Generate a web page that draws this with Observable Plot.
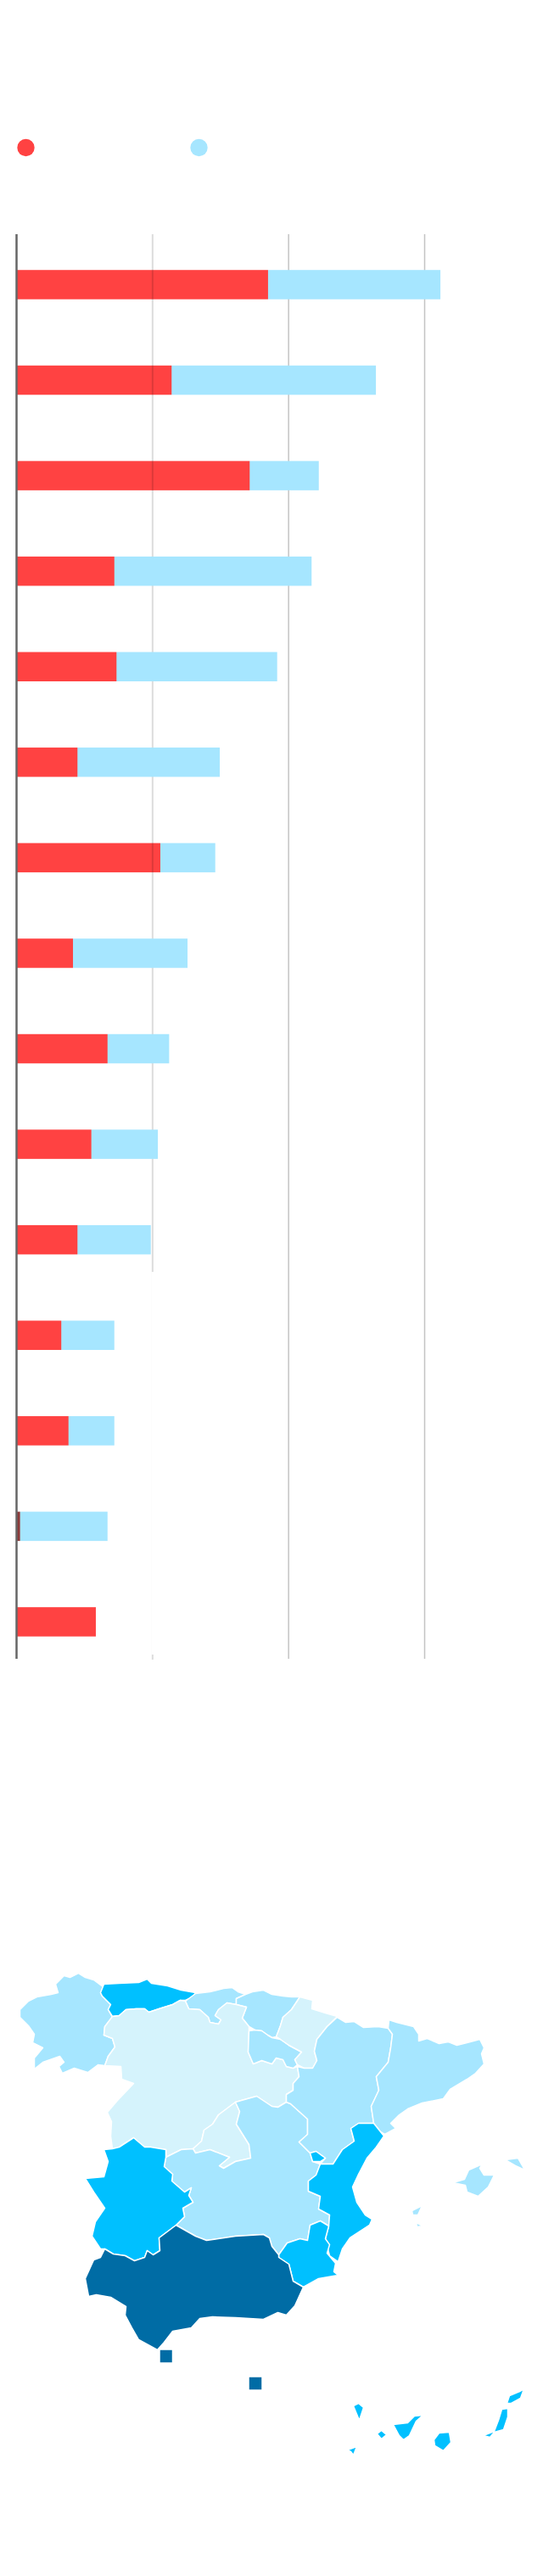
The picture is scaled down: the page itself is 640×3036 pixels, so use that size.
<!DOCTYPE html>
<html>
<head>
<meta charset="utf-8">
<style>
html,body{margin:0;padding:0;background:#fff}
svg{display:block}
</style>
<script src="https://cdn.jsdelivr.net/npm/d3@7"></script>
<script src="https://cdn.jsdelivr.net/npm/@observablehq/plot@0.6"></script>
</head>
<body>
<div id="legend"></div>
<div id="bars"></div>
<div id="map"></div>
<script>
// ---- bar data (in chart units)
const rows = ["r01","r02","r03","r04","r05","r06","r07","r08","r09","r10","r11","r12","r13","r14","r15"];
const redValues  = [185.2,114.3,171.7,72.2,73.8,45.1,106,41.8,67.2,55.3,45.1,33.2,38.5,2.9,58.6];
const blueValues = [126.7,150.2,50.8,145,118.1,104.6,40.4,84.2,45.3,48.9,53.9,39,33.7,64.3,0];
const ticks = [100,200,300];
const seriesNames = ["red series","blue series"];
const seriesColors = ["#ff4242","#a6e6ff"];

// ---- map classes
const classNames = ["c1","c2","c3","c4"];
const classColors = ["#006ca5","#00c0ff","#a6e6ff","#d5f3fc"];

// ---- region outlines, traced in map grid units
const galicia = [[122,42],[110,33],[100,30],[92,25],[82,30],[75,28],[65,38],[68,48],[60,50],[43,53],[33,58],[23,68],[23,77],[33,87],[40,97],[38,107],[50,113],[40,125],[40,138],[50,130],[70,123],[75,130],[69,135],[73,143],[87,137],[103,142],[115,133],[123,134],[127,123],[135,112],[132,102],[122,98],[123,88],[132,77],[127,68],[130,62],[120,52],[118,48]];
const asturias = [[122,38],[140,37],[163,36],[173,32],[178,37],[197,40],[213,45],[230,48],[227,53],[218,57],[212,57],[203,62],[187,67],[175,71],[170,67],[160,67],[148,68],[140,75],[132,76],[127,68],[130,62],[120,52],[118,48]];
const cantabria = [[230,49],[247,47],[263,43],[273,42],[280,47],[289,50],[278,55],[278,62],[267,60],[257,68],[253,75],[260,80],[257,85],[247,83],[245,77],[235,68],[222,67],[218,58]];
const paisVasco = [[289,50],[297,47],[310,45],[320,50],[333,52],[343,53],[353,53],[343,68],[333,77],[330,87],[327,95],[325,100],[320,101],[315,98],[308,93],[300,92],[293,88],[285,78],[290,65],[278,62],[278,55]];
const rioja = [[293,93],[292,118],[298,132],[308,128],[320,132],[325,125],[333,127],[337,135],[345,137],[350,133],[347,127],[355,118],[340,110],[330,103],[320,101],[315,98],[308,93],[300,92]];
const navarra = [[353,53],[368,57],[367,67],[383,72],[397,76],[385,88],[373,103],[370,117],[373,128],[368,137],[358,137],[350,133],[347,127],[355,118],[340,110],[330,103],[325,100],[327,95],[330,87],[333,77],[343,68]];
const aragon = [[397,77],[407,83],[417,82],[428,89],[445,88],[457,90],[462,97],[460,113],[457,130],[443,147],[446,163],[437,182],[440,202],[422,202],[413,208],[417,223],[403,233],[392,250],[377,250],[383,243],[372,235],[365,237],[352,224],[362,215],[362,197],[342,179],[337,177],[337,168],[345,163],[345,155],[352,147],[350,135],[358,137],[368,137],[373,128],[370,117],[373,103],[385,88]];
const cataluna = [[458,80],[467,83],[487,88],[493,97],[493,105],[503,102],[517,108],[528,106],[538,110],[550,107],[565,103],[570,113],[567,120],[570,132],[560,143],[550,150],[530,162],[522,173],[497,178],[480,185],[470,192],[460,202],[466,208],[453,215],[448,212],[440,202],[437,182],[446,163],[443,147],[457,130],[460,113],[462,97],[457,90]];
const valencia = [[452,217],[443,230],[432,243],[422,262],[415,277],[420,295],[430,310],[438,315],[435,322],[412,337],[403,350],[398,365],[388,358],[385,347],[383,338],[387,323],[388,310],[375,303],[377,288],[363,282],[363,270],[372,263],[377,250],[392,250],[403,233],[417,223],[413,208],[422,202],[440,202],[448,212]];
const rincon = [[365,237],[372,235],[383,243],[377,247],[368,247]];
const murcia = [[328,357],[338,343],[353,338],[362,340],[365,322],[377,317],[387,323],[383,338],[388,345],[385,355],[395,367],[393,377],[398,381],[375,385],[357,395],[345,388],[340,368],[328,360]];
const clm = [[195,242],[213,233],[227,232],[230,237],[247,233],[270,242],[258,252],[263,255],[277,247],[295,243],[293,227],[278,203],[282,188],[277,177],[302,170],[320,182],[327,183],[337,177],[342,179],[362,197],[362,215],[352,224],[365,237],[368,247],[377,250],[372,263],[363,270],[363,282],[377,288],[375,303],[388,310],[387,323],[377,317],[365,322],[362,340],[353,338],[338,343],[328,357],[320,347],[317,337],[310,333],[277,335],[243,340],[230,335],[207,322],[217,312],[215,302],[227,295],[222,287],[225,278],[217,283],[202,270],[203,262],[193,253]];
const madrid = [[227,232],[230,237],[247,233],[270,242],[258,252],[263,255],[277,247],[295,243],[293,227],[278,203],[282,188],[277,177],[257,192],[250,203],[240,210],[237,223]];
const castillaLeon = [[132,76],[140,75],[148,68],[160,67],[170,67],[175,71],[187,67],[203,62],[212,57],[218,58],[222,67],[235,68],[245,77],[247,83],[257,85],[260,80],[253,75],[257,68],[267,60],[278,62],[290,65],[285,78],[293,88],[293,93],[292,118],[298,132],[308,128],[320,132],[325,125],[333,127],[337,135],[345,137],[350,135],[352,147],[345,155],[345,163],[337,168],[337,177],[327,183],[320,182],[302,170],[277,177],[257,192],[250,203],[240,210],[237,223],[227,232],[213,233],[195,242],[195,233],[177,230],[170,230],[157,219],[140,230],[132,232],[130,217],[131,200],[126,189],[138,175],[157,155],[143,150],[142,135],[123,134],[127,123],[135,112],[132,102],[122,98],[123,88]];
const extremadura = [[122,233],[132,232],[140,230],[157,219],[170,230],[177,230],[195,233],[195,242],[193,253],[203,262],[202,270],[217,283],[225,278],[222,287],[227,295],[215,302],[217,312],[207,322],[187,337],[188,352],[180,357],[173,352],[170,360],[158,364],[147,358],[133,356],[123,350],[118,350],[108,335],[112,318],[123,302],[110,283],[100,267],[122,265],[127,247]];
const andalucia = [[100,385],[110,363],[118,360],[123,350],[133,356],[147,358],[158,364],[170,360],[173,352],[180,357],[188,352],[187,337],[207,322],[230,335],[243,340],[277,335],[310,333],[317,337],[320,347],[328,357],[328,360],[340,368],[345,388],[357,395],[347,417],[337,428],[327,425],[310,433],[277,431],[250,430],[235,432],[225,443],[203,447],[193,460],[185,469],[163,457],[155,443],[147,428],[148,418],[130,407],[113,404],[104,406]];
const mallorca = [[533,272],[547,268],[552,257],[568,250],[565,255],[570,263],[582,263],[575,277],[563,288],[550,283],[548,275]];
const menorca = [[595,245],[610,243],[618,257],[607,252]];
const ibiza = [[485,305],[497,299],[492,310],[486,310]];
const formentera = [[490,319],[498,323],[491,324]];
const laPalma = [[416,535],[422,532],[428,537],[423,552]];
const gomera = [[444,568],[449,564],[455,569],[449,574]];
const tenerife = [[463,557],[480,555],[488,547],[498,546],[490,553],[482,570],[475,575],[470,570]];
const granCanaria = [[517,567],[529,566],[531,578],[522,588],[512,582],[511,575]];
const hierro = [[409,587],[420,583],[416,593],[413,589]];
const fuerteventura = [[569,570],[582,565],[587,552],[591,539],[598,538],[598,548],[593,563],[582,566],[577,572]];
const lanzarote = [[597,532],[600,523],[612,518],[617,515],[613,526],[602,532]];
const ceuta = [[187.5,468.5],[203,468.5],[203,484.5],[187.5,484.5]];
const melilla = [[292.5,500.5],[308.5,500.5],[308.5,516.5],[292.5,516.5]];

const close = r => [...r, r[0]];
const region = (name, klass, ...rings) => ({
  type: "Feature",
  properties: {name, klass},
  geometry: {type: "MultiPolygon", coordinates: rings.map(r => [close(r)])}
});
const regions = [
  region("Galicia","c3",galicia), region("Asturias","c2",asturias), region("Cantabria","c3",cantabria),
  region("País Vasco","c3",paisVasco), region("Castilla y León","c4",castillaLeon), region("La Rioja","c3",rioja),
  region("Navarra","c4",navarra), region("Madrid","c4",madrid), region("Castilla-La Mancha","c3",clm),
  region("Aragón","c3",aragon), region("Cataluña","c3",cataluna), region("Valencia","c2",valencia,rincon),
  region("Murcia","c2",murcia), region("Extremadura","c2",extremadura), region("Andalucía","c1",andalucia),
  region("Baleares","c3",mallorca,menorca,ibiza,formentera),
  region("Canarias","c2",laPalma,gomera,tenerife,granCanaria,hierro,fuerteventura,lanzarote),
  region("Ceuta","c1",ceuta), region("Melilla","c1",melilla)
];
const gridExtent = {type:"Polygon",coordinates:[[[0,0],[640,0],[640,736],[0,736],[0,0]]]};

// ---- legend
document.getElementById("legend").append(Plot.plot({
  width: 640, height: 276, marginTop: 163.5, marginBottom: 92.5, marginLeft: 0, marginRight: 0,
  x: {type: "point", domain: seriesNames, range: [30, 234], padding: 0, axis: null},
  color: {domain: seriesNames, range: seriesColors},
  marks: [Plot.dot(seriesNames, {x: d => d, fill: d => d, r: 10.2})]
}));

// ---- bars
const table = rows.map((row, i) => ({row, red: redValues[i], blue: blueValues[i]}));
document.getElementById("bars").append(Plot.plot({
  width: 640, height: 1680, marginTop: 0, marginBottom: 0, marginLeft: 0, marginRight: 0,
  x: {domain: [0, 300], range: [19, 500], axis: null},
  y: {type: "band", domain: rows, range: [19.7, 1675.2], paddingInner: 0.6935, paddingOuter: 0.2, round: false, axis: null},
  marks: [
    Plot.ruleX(ticks.slice(0, 1), {stroke: "#ddd", strokeWidth: 2}),
    Plot.ruleX(ticks.slice(0, 1), {stroke: "#fff", strokeWidth: 3, insetTop: 1223, insetBottom: 6}),
    Plot.ruleX(ticks.slice(1), {stroke: "#c4c4c4", strokeWidth: 1.5, insetBottom: 1}),
    Plot.barX(table, {y: "row", x1: "red", x2: d => d.red + d.blue, fill: seriesColors[1]}),
    Plot.barX(table, {y: "row", x1: () => 0, x2: "red", fill: d => d.red < 5 ? "#8c3a3a" : seriesColors[0], mixBlendMode: "multiply"}),
    Plot.ruleX([0], {stroke: "#666", strokeWidth: 2.5, insetBottom: 1})
  ]
}));

// ---- map
document.getElementById("map").append(Plot.plot({
  width: 640, height: 1080, marginTop: 344, marginBottom: 0, marginLeft: 0, marginRight: 0,
  projection: {type: "identity", domain: gridExtent},
  color: {domain: classNames, range: classColors},
  marks: [
    Plot.geo(regions, {fill: d => d.properties.klass, stroke: "#fff", strokeWidth: 1.5, strokeLinejoin: "round"})
  ]
}));
</script>
</body>
</html>
